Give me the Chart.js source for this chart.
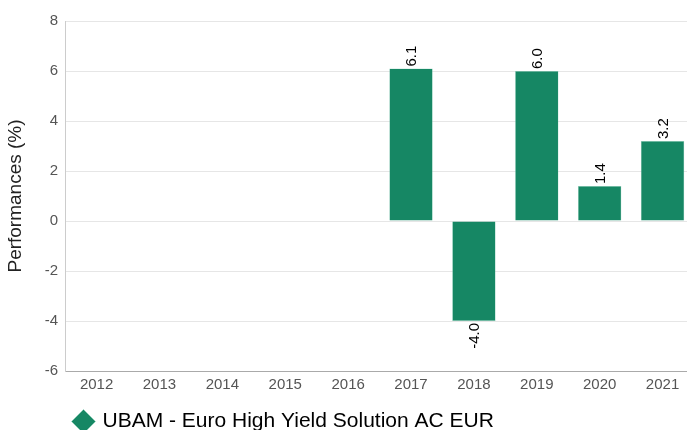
<!DOCTYPE html>
<html>
<head>
<meta charset="utf-8">
<script src="https://cdn.jsdelivr.net/npm/chart.js@4/dist/chart.umd.min.js"></script>
<style>
html,body{margin:0;padding:0;overflow:hidden;background:#fff;}
#wrap{width:694px;height:440px;position:relative;}
</style>
</head>
<body>
<div id="wrap"><canvas id="c"></canvas></div>
<script>
const categories = ["2012","2013","2014","2015","2016","2017","2018","2019","2020","2021"];
const performances = [null,null,null,null,null,6.1,-4.0,6.0,1.4,3.2];
const yTicks = [-6,-4,-2,0,2,4,6,8];
const seriesName = "UBAM - Euro High Yield Solution AC EUR";
const barColor = "#168764";
const FONT = '"Liberation Sans", Arial, sans-serif';

const labelPlugin = {
  id: 'barLabels',
  afterDatasetsDraw(chart) {
    const ctx = chart.ctx;
    const meta = chart.getDatasetMeta(0);
    ctx.save();
    ctx.font = '15px ' + FONT;
    ctx.fillStyle = '#000';
    meta.data.forEach((el, i) => {
      const v = performances[i];
      if (v === null || v === undefined) return;
      const txt = v.toFixed(1);
      ctx.save();
      ctx.translate(el.x + 1, el.y);
      ctx.rotate(-Math.PI / 2);
      ctx.textBaseline = 'middle';
      if (v >= 0) { ctx.textAlign = 'left'; ctx.fillText(txt, 2, 0); }
      else { ctx.textAlign = 'right'; ctx.fillText(txt, -2, 0); }
      ctx.restore();
    });
    ctx.restore();
  }
};

const legendShift = {
  id: 'legendShift',
  afterLayout(chart) {
    const lg = chart.legend;
    if (lg) {
      const dx = 65 - lg.left; lg.left += dx; lg.right += dx;
      lg.top += 2; lg.bottom += 2;
    }
  }
};

new Chart(document.getElementById('c'), {
  type: 'bar',
  data: {
    labels: categories,
    datasets: [{
      label: seriesName,
      data: performances,
      backgroundColor: barColor,
      borderColor: 'rgba(140,210,185,0.9)',
      borderWidth: 0.5,
      categoryPercentage: 1.0,
      barPercentage: 0.69,
      pointStyle: 'rectRot'
    }]
  },
  options: {
    responsive: true,
    maintainAspectRatio: false,
    animation: false,
    layout: { padding: { top: 21, left: 4, right: 0, bottom: 0 } },
    plugins: {
      legend: {
        position: 'bottom',
        align: 'start',
        labels: {
          usePointStyle: true,
          pointStyle: 'rectRot',
          boxWidth: 17,
          boxHeight: 17,
          padding: 10,
          color: '#000',
          font: { size: 21, family: FONT }
        }
      },
      tooltip: { enabled: false }
    },
    scales: {
      x: {
        grid: { display: false, drawTicks: false },
        border: { color: '#aaaaaa', width: 1 },
        ticks: { color: '#555', padding: 5, font: { size: 15, family: FONT } }
      },
      y: {
        min: -6, max: 8,
        afterBuildTicks(axis) { axis.ticks = yTicks.map(v => ({ value: v })); },
        grid: { color: '#e6e6e6', drawTicks: false },
        border: { color: '#cccccc', width: 1 },
        ticks: { color: '#555', padding: 7, font: { size: 15, family: FONT } },
        title: { display: true, text: 'Performances (%)', color: '#222', padding: { top: 0, bottom: 11 }, font: { size: 19, family: FONT } }
      }
    }
  },
  plugins: [labelPlugin, legendShift]
});
</script>
</body>
</html>
